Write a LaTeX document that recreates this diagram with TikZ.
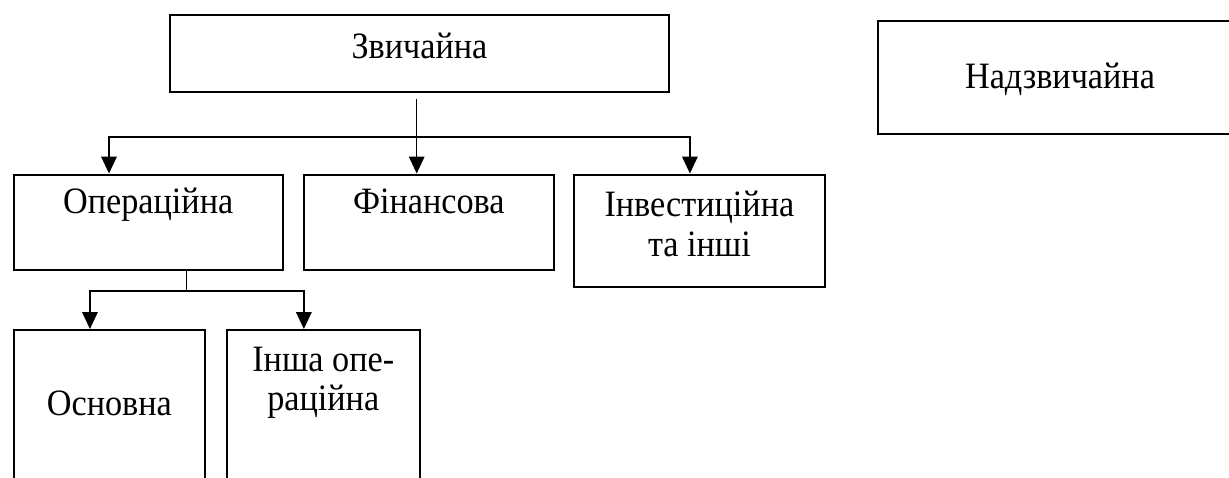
\documentclass[tikz,border=0pt]{standalone}
\usepackage{fontspec}
\usepackage{graphicx}
\setmainfont{Liberation Serif}
\usetikzlibrary{arrows.meta, positioning, calc}

% narrow the letters a little, as in the scan
\newcommand{\narrow}[1]{\scalebox{0.92}[1]{#1}}

\begin{document}
\begin{tikzpicture}[
  >={Triangle[length=8.5pt,width=7.8pt]},
  boxnode/.style={draw, rectangle, line width=1pt, inner sep=0pt, anchor=north west},
  lbl/.style={font=\fontsize{18.6}{19.75}\selectfont, inner sep=0pt, align=center, anchor=base},
  flow/.style={->, line width=0.75pt},
  link/.style={line width=0.75pt}
]
\useasboundingbox (0,0) rectangle (614.5pt,-238.5pt);

% boxes
\node[boxnode, minimum width=249.5pt, minimum height=38.5pt] (Zvych) at (84.5pt,-7pt) {};
\node[boxnode, minimum width=182pt, minimum height=56.5pt]   (Nadzv) at (438.5pt,-10pt) {};
\node[boxnode, minimum width=134.5pt, minimum height=47.75pt] (Oper) at (6.35pt,-86.75pt) {};
\node[boxnode, minimum width=124.8pt, minimum height=47.75pt, anchor=west] (Fin) [right=9.65pt of Oper] {};
\node[boxnode, minimum width=125.5pt, minimum height=56.25pt, anchor=north west] (Invest) at ($(Fin.north east)+(9.15pt,0)$) {};
\node[boxnode, minimum width=95.65pt, minimum height=90pt] (Osn) [below right=29pt and 0pt of Oper.south west] {};
\node[boxnode, minimum width=96.25pt, minimum height=90pt, anchor=west] (InOper) [right=10pt of Osn] {};

% texts (base = last line)
\node[lbl] (ZvychText)  at ([yshift=-22pt]Zvych.north)  {\narrow{Звичайна}};
\node[lbl] (NadzvText)  at ([yshift=-34pt]Nadzv.north)  {\narrow{Надзвичайна}};
\node[lbl] (OperText)   at ([yshift=-20pt]Oper.north)   {\narrow{Операційна}};
\node[lbl] (FinText)    at ([yshift=-20pt]Fin.north)    {\narrow{Фінансова}};
\node[lbl] (InvestText) at ([yshift=-41.25pt]Invest.north) {\narrow{Інвестиційна}\\\narrow{та інші}};
\node[lbl] (OsnText)    at ([yshift=-43pt]Osn.north)    {\narrow{Основна}};
\node[lbl] (InOperText) at ([yshift=-40.75pt]InOper.north) {\narrow{Інша опе-}\\\narrow{раційна}};

% flows
\coordinate (hub) at ([xshift=-1.4pt,yshift=-22pt]Zvych.south);
\draw[link] ([xshift=-1.4pt,yshift=-2.85pt]Zvych.south) -- (hub);
\draw[flow] (hub) -- (hub |- Fin.north);
\draw[flow] (hub) -| ([xshift=-19.6pt]Oper.north);
\draw[flow] (hub) -| ([xshift=-4.75pt]Invest.north);

\coordinate (opHub) at ([xshift=19.25pt,yshift=-10pt]Oper.south);
\draw[link] (opHub |- Oper.south) -- (opHub);
\draw[flow] (opHub) -| ([xshift=-9.7pt]Osn.north);
\draw[flow] (opHub) -| ([xshift=-9.7pt]InOper.north);

\end{tikzpicture}
\end{document}
